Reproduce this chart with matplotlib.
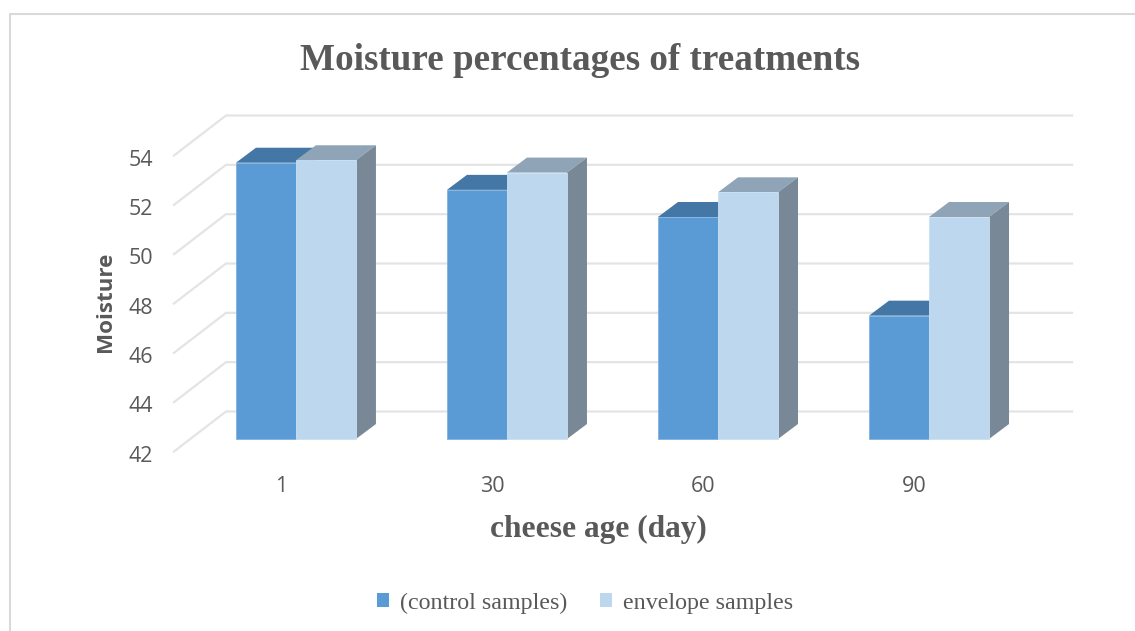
import matplotlib
matplotlib.use("Agg")
import matplotlib.pyplot as plt
from matplotlib.patches import Polygon, Patch
from matplotlib.transforms import ScaledTranslation

categories = ["1", "30", "60", "90"]
control = [53.2, 52.1, 51.0, 47.0]
envelope = [53.3, 52.8, 52.0, 51.0]
y_ticks = [42, 44, 46, 48, 50, 52, 54]

W, H = 1135, 631
PX_X = 1 / 211.0        # data units per pixel, x
PX_Y = 2 / 49.33        # data units per pixel, y
TXT = "#595959"
GRID = "#E4E4E4"
C1, C1_TOP = "#5B9BD5", "#4477A5"
C2, C2_TOP = "#BDD7EE", "#8FA4B7"
SIDE = "#788897"

fig = plt.figure(figsize=(W / 100, H / 100), dpi=100, facecolor="white")
fig.add_artist(plt.Line2D([10 / W, 10 / W, 1],
                          [0, 1 - 13.5 / H, 1 - 13.5 / H],
                          color="#D9D9D9", lw=1.5))

ax = fig.add_axes([174 / W, 1 - 451.5 / H, 846 / W, 296 / H])
ax.set_xlim(-0.502, 3.507)
ax.set_ylim(42, 54)
ax.patch.set_alpha(0)
for s in ax.spines.values():
    s.set_visible(False)

# back wall and left wall gridlines
wall_x, wall_y = 52 * PX_X, 40 * PX_Y
x0, x1 = ax.get_xlim()
for v in y_ticks:
    ax.plot([x0, x0 + wall_x, x1 + wall_x], [v, v + wall_y, v + wall_y],
            color=GRID, lw=1.6, clip_on=False, zorder=1, solid_joinstyle="miter")

# bars: front face plane and depth of the box
fx, fy = 16 * PX_X, 12.5 * PX_Y
dx, dy = 20 * PX_X, 15 * PX_Y
bw = 60 * PX_X


def box(x, v, top, z):
    l, r = x + fx - bw / 2, x + fx + bw / 2
    t, b = v + fy, 42 + fy
    ax.add_patch(Polygon([(l, t), (r, t), (r + dx, t + dy), (l + dx, t + dy)],
                         fc=top, ec="none", clip_on=False, zorder=z))
    ax.add_patch(Polygon([(r, t), (r + dx, t + dy), (r + dx, b + dy), (r, b)],
                         fc=SIDE, ec="none", clip_on=False, zorder=z))


for i in range(len(categories)):
    box(i - bw / 2, control[i], C1_TOP, 2)
    box(i + bw / 2, envelope[i], C2_TOP, 3)

xs = list(range(len(categories)))
ax.bar([x - bw / 2 + fx for x in xs], [v - 42 for v in control], width=bw, bottom=42 + fy,
       color=C1, edgecolor="#7FB2E0", linewidth=0.6, clip_on=False, zorder=4)
ax.bar([x + bw / 2 + fx for x in xs], [v - 42 for v in envelope], width=bw, bottom=42 + fy,
       color=C2, edgecolor="#CBE0F2", linewidth=0.6, clip_on=False, zorder=4)

ax.set_xticks(xs, categories)
ax.set_yticks(y_ticks)
ax.tick_params(length=0, labelcolor=TXT, labelsize=15.5)
ax.tick_params(axis="x", pad=18)
ax.tick_params(axis="y", pad=15)
for lab in ax.get_xticklabels() + ax.get_yticklabels():
    lab.set_fontfamily("Open Sans")
# nudge tick labels by a couple of pixels (dpi_scale_trans works in inches; 100 px per inch)
y_nudge = ScaledTranslation(0, -2 / 100, fig.dpi_scale_trans)
x_nudge = ScaledTranslation(1.5 / 100, 0, fig.dpi_scale_trans)
for lab in ax.get_yticklabels():
    lab.set_transform(lab.get_transform() + y_nudge)
for lab in ax.get_xticklabels():
    lab.set_transform(lab.get_transform() + x_nudge)

SERIF = "Liberation Serif"
fig.text(580 / W, 1 - 60 / H, "Moisture percentages of treatments", family=SERIF,
         weight="bold", size=26.7, color=TXT, ha="center", va="center")
fig.text(598 / W, 1 - 529 / H, "cheese age (day)", family=SERIF,
         weight="bold", size=22.6, color=TXT, ha="center", va="center")
fig.text(105.5 / W, 1 - 302 / H, "Moisture", family="Open Sans",
         weight="bold", size=16.1, color=TXT, ha="center", va="center", rotation=90)

handles = [Patch(fc=C1, ec="none"), Patch(fc=C2, ec="none")]
fig.legend(handles, ["(control samples)", "envelope samples"],
           loc="center", bbox_to_anchor=(585 / W, 1 - 603 / H), ncol=2, frameon=False,
           prop={"family": SERIF, "size": 17.3}, labelcolor=TXT,
           handlelength=0.5, handleheight=0.5, handletextpad=0.45, columnspacing=1.37)

fig.savefig("out.png", dpi=100)
